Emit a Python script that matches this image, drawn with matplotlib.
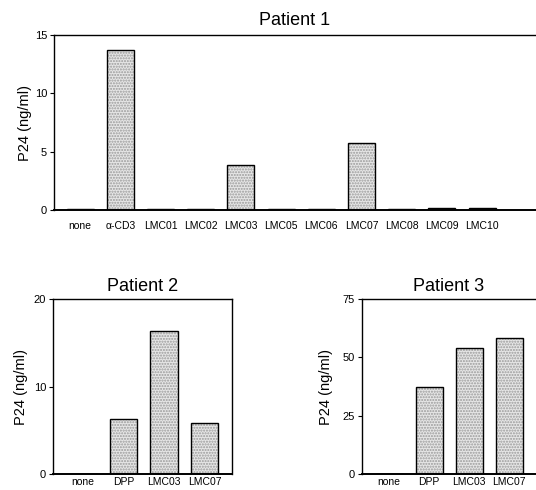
import matplotlib
matplotlib.use("Agg")
import matplotlib.pyplot as plt

plt.rcParams['font.family'] = ['Liberation Sans', 'DejaVu Sans']

# patient 1
p1_labels = ["none", "\u03b1-CD3", "LMC01", "LMC02", "LMC03", "LMC05",
             "LMC06", "LMC07", "LMC08", "LMC09", "LMC10"]
p1_values = [0.1, 13.7, 0.05, 0.1, 3.9, 0.1, 0.1, 5.75, 0.1, 0.15, 0.15]

# patient 2
p2_labels = ["none", "DPP", "LMC03", "LMC07"]
p2_values = [0.0, 6.3, 16.3, 5.8]

# patient 3
p3_labels = ["none", "DPP", "LMC03", "LMC07"]
p3_values = [0.0, 37.3, 54.0, 58.3]


def draw_panel(ax, labels, values, title, ymax, yticks, xlim, right_spine,
               xpad, tpad):
    x = list(range(len(labels)))
    # stippled fill first, then the black outline on top
    ax.bar(x, values, width=0.67, color="#e6e6e6", edgecolor="#9a9a9a",
           hatch="......", linewidth=0, zorder=2)
    ax.bar(x, values, width=0.67, fill=False, edgecolor="black",
           linewidth=1.0, zorder=3)
    ax.set_xlim(xlim)
    ax.set_ylim(0, ymax)
    ax.set_yticks(yticks)
    ax.set_xticks(x)
    ax.set_xticklabels(labels, fontsize=7.5)
    ax.tick_params(axis="x", length=0, pad=xpad)
    ax.tick_params(axis="y", length=3, width=0.8, labelsize=8, pad=2)
    ax.set_ylabel("P24 (ng/ml)", fontsize=10.5)
    ax.set_title(title, fontsize=13, pad=tpad)
    for s in ax.spines.values():
        s.set_linewidth(1.0)
    ax.spines["bottom"].set_linewidth(1.4)
    ax.spines["right"].set_visible(right_spine)


fig = plt.figure(figsize=(5.36, 4.9), dpi=100)

ax1 = fig.add_axes([0.1007, 0.5714, 0.8993, 0.3571])
draw_panel(ax1, p1_labels, p1_values, "Patient 1", 15, [0, 5, 10, 15],
           (-0.65, 11.34), False, 8, 7)
ax1.yaxis.labelpad = 2

ax2 = fig.add_axes([0.0989, 0.0327, 0.334, 0.357])
draw_panel(ax2, p2_labels, p2_values, "Patient 2", 20, [0, 10, 20],
           (-0.74, 3.68), True, 2.5, 6)
ax2.yaxis.labelpad = 4

ax3 = fig.add_axes([0.6754, 0.0327, 0.3246, 0.357])
draw_panel(ax3, p3_labels, p3_values, "Patient 3", 75, [0, 25, 50, 75],
           (-0.68, 3.67), False, 2.5, 6)
ax3.yaxis.labelpad = 7

fig.savefig("out.png", dpi=100)
